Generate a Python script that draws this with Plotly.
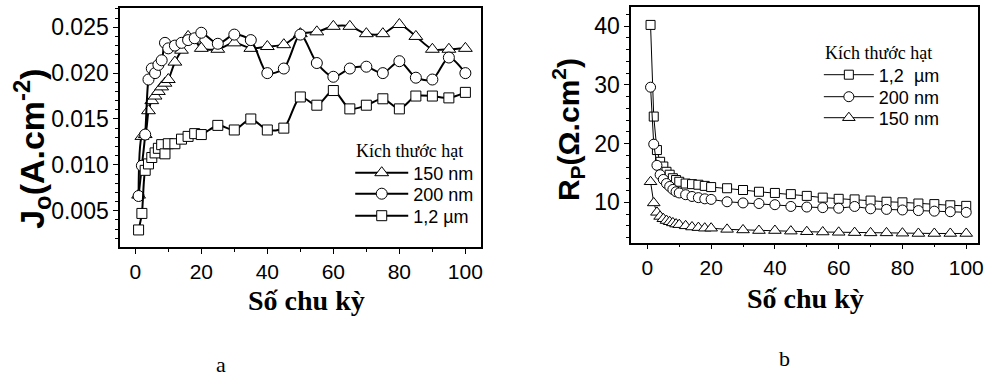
import plotly.graph_objects as go

# ---------------- data ----------------
cycles = [1, 2, 3, 4, 5, 6, 7, 8, 9, 10, 12, 14, 16, 18, 20,
          25, 30, 35, 40, 45, 50, 55, 60, 65, 70, 75, 80, 85, 90, 95, 100]

# Panel a: exchange current density J_o (A.cm^-2)
jo_150nm = [0.0067, 0.0131, 0.0133, 0.0159, 0.0170, 0.0175, 0.0180, 0.0185, 0.0189, 0.0193,
            0.0212, 0.0225, 0.0240, 0.0236, 0.0227,
            0.0226, 0.0233, 0.0227, 0.0229, 0.0231, 0.0243, 0.0245, 0.0251, 0.0251,
            0.0243, 0.0243, 0.0253, 0.0240, 0.0226, 0.0226, 0.0227]
jo_200nm = [0.0066, 0.0099, 0.0133, 0.0193, 0.0205, 0.0200, 0.0209, 0.0214, 0.0233, 0.0227,
            0.0230, 0.0233, 0.0236, 0.0238, 0.0244,
            0.0232, 0.0242, 0.0236, 0.0200, 0.0205, 0.0242, 0.0211, 0.0196, 0.0205,
            0.0207, 0.0200, 0.0213, 0.0195, 0.0193, 0.0217, 0.0200]
jo_1_2um = [0.0029, 0.0047, 0.0094, 0.0101, 0.0108, 0.0113, 0.0118, 0.0122, 0.0112, 0.0123,
            0.0123, 0.0128, 0.0131, 0.0134, 0.0133,
            0.0143, 0.0138, 0.0150, 0.0138, 0.0140, 0.0174, 0.0165, 0.0181, 0.0161,
            0.0165, 0.0172, 0.0161, 0.0175, 0.0175, 0.0173, 0.0179]

# Panel b: polarisation resistance R_p (Ohm.cm^2)
rp_1_2um = [40.2, 24.6, 18.9, 16.9, 16.1, 15.2, 14.7, 14.1, 13.8, 13.5,
            13.2, 13.1, 13.0, 12.8, 12.6,
            12.4, 12.1, 11.8, 11.6, 11.4, 11.1, 10.8, 10.6, 10.5,
            10.3, 10.1, 10.0, 9.8, 9.7, 9.5, 9.4]
rp_200nm = [29.6, 19.9, 16.3, 14.7, 13.9, 13.2, 12.7, 12.2, 11.8, 11.6,
            11.3, 11.0, 10.8, 10.6, 10.5,
            10.1, 9.9, 9.8, 9.6, 9.3, 9.2, 9.1, 9.0, 9.3,
            8.9, 8.8, 8.7, 8.6, 8.5, 8.4, 8.3]
rp_150nm = [13.5, 9.9, 8.3, 7.6, 7.2, 6.9, 6.7, 6.5, 6.3, 6.2,
            6.0, 5.8, 5.7, 5.6, 5.6,
            5.4, 5.3, 5.2, 5.2, 5.1, 5.0, 4.95, 4.9, 4.85,
            4.8, 4.8, 4.75, 4.7, 4.7, 4.7, 4.7]

legend_title = "Kích thước hạt"
label_150 = "150 nm"
label_200 = "200 nm"
label_12_a = "1,2 µm"
label_12_b = "1,2\u00a0 µm"

# ---------------- styles ----------------
SANS = "Liberation Sans, Arial, sans-serif"
SERIF = "Liberation Serif, Times New Roman, serif"
W, H = 992, 377


def px(x):
    return x / W


def py(y):
    return 1 - y / H


def mk(symbol, size):
    return dict(symbol=symbol, size=size, color="white",
                line=dict(color="black", width=1))


fig = go.Figure()

spl = dict(color="black", width=2, shape="spline", smoothing=0.8)
# panel a traces
fig.add_trace(go.Scatter(x=cycles, y=jo_150nm, name=label_150, mode="lines+markers", line=spl,
                         marker=mk("triangle-up", 12), xaxis="x", yaxis="y", legend="legend"))
fig.add_trace(go.Scatter(x=cycles, y=jo_200nm, name=label_200, mode="lines+markers", line=spl,
                         marker=mk("circle", 11), xaxis="x", yaxis="y", legend="legend2"))
fig.add_trace(go.Scatter(x=cycles, y=jo_1_2um, name=label_12_a, mode="lines+markers", line=spl,
                         marker=mk("square", 10), xaxis="x", yaxis="y", legend="legend3"))

thin = dict(color="black", width=1)
# panel b traces
fig.add_trace(go.Scatter(x=cycles, y=rp_1_2um, name=label_12_b, mode="lines+markers", line=thin,
                         marker=mk("square", 9), xaxis="x2", yaxis="y2", legend="legend4"))
fig.add_trace(go.Scatter(x=cycles, y=rp_200nm, name=label_200, mode="lines+markers", line=thin,
                         marker=mk("circle", 10), xaxis="x2", yaxis="y2", legend="legend5"))
fig.add_trace(go.Scatter(x=cycles, y=rp_150nm, name=label_150, mode="lines+markers", line=thin,
                         marker=mk("triangle-up", 11), xaxis="x2", yaxis="y2", legend="legend6"))


def axis(domain, rng, dtick, minor_dtick, fsize, standoff, fmt=None, anchor=None):
    d = dict(domain=domain, range=rng, dtick=dtick, tick0=0,
             showline=True, linecolor="black", linewidth=1.5, mirror=True,
             ticks="outside", ticklen=5, tickwidth=1.2, tickcolor="black",
             showgrid=False, zeroline=False, fixedrange=True,
             tickfont=dict(family=SANS, size=fsize, color="black"),
             minor=dict(dtick=minor_dtick, ticks="outside", ticklen=3,
                        tickcolor="black", tickwidth=1, showgrid=False),
             anchor=anchor, ticklabelstandoff=standoff)
    if fmt:
        d["tickformat"] = fmt
    return d


def leg(x, y, width):
    return dict(x=px(x), y=py(y), xanchor="left", yanchor="middle",
                bgcolor="rgba(0,0,0,0)", itemwidth=width, borderwidth=0,
                font=dict(family=SANS, size=18, color="black"))


fig.update_layout(
    width=W, height=H,
    margin=dict(l=0, r=0, t=0, b=0),
    paper_bgcolor="white", plot_bgcolor="white",
    hovermode=False,
    xaxis=axis([px(120.7), px(483)], [-4.6, 104.6], 20, 10, 21, 0, anchor="y"),
    yaxis=axis([py(247), py(8)], [0.00104, 0.0271], 0.005, 0.001, 23, 0, fmt=".3f", anchor="x"),
    xaxis2=axis([px(634.3), px(983.3)], [-5.1, 103.8], 20, 10, 21, 0, anchor="y2"),
    yaxis2=axis([py(242.7), py(7.3)], [3.13, 43.2], 10, 2, 23, 0, anchor="x2"),
    legend=leg(352, 173, 53),
    legend2=leg(352, 194, 53),
    legend3=leg(352, 216, 53),
    legend4=leg(823, 75, 50),
    legend5=leg(823, 97, 50),
    legend6=leg(823, 118, 50),
    showlegend=True,
)

ann = [
    dict(text="<b>J<sub>o</sub>(A.cm<sup>-2</sup>)</b>", x=px(32), y=py(149), textangle=-90,
         font=dict(family=SANS, size=34, color="black")),
    dict(text="<b>R<sub>P</sub>(Ω.cm<sup>2</sup>)</b>", x=px(571), y=py(130), textangle=-90,
         font=dict(family=SANS, size=30, color="black")),
    dict(text="<b>Số chu kỳ</b>", x=px(308), y=py(300),
         font=dict(family=SERIF, size=28, color="black")),
    dict(text="<b>Số chu kỳ</b>", x=px(810), y=py(298),
         font=dict(family=SERIF, size=28, color="black")),
    dict(text="a", x=px(222), y=py(364), font=dict(family=SERIF, size=22, color="black")),
    dict(text="b", x=px(788), y=py(358), font=dict(family=SERIF, size=22, color="black")),
    dict(text=legend_title, x=px(356), y=py(151), xanchor="left",
         font=dict(family=SERIF, size=18, color="black")),
    dict(text=legend_title, x=px(827), y=py(53), xanchor="left",
         font=dict(family=SERIF, size=18, color="black")),
]
for a in ann:
    a.setdefault("xanchor", "center")
    a.update(xref="paper", yref="paper", showarrow=False, yanchor="middle")
fig.update_layout(annotations=ann)

fig.write_html(
    "out.html",
    config={"displayModeBar": False, "staticPlot": False},
    post_script="document.body.style.margin='0';document.body.style.overflow='hidden';",
)
